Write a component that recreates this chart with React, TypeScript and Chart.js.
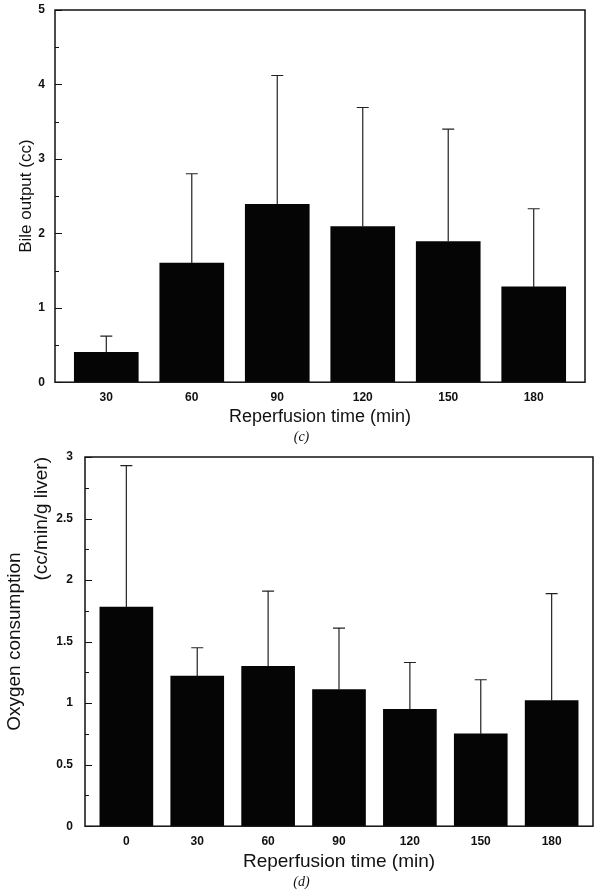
import React, { useEffect, useRef } from 'react';
import { Chart, registerables } from 'chart.js';

Chart.register(...registerables);

// ---- Panel (c): bile output ----
const bileTimes = [30, 60, 90, 120, 150, 180];
const bileMean = [0.40, 1.60, 2.39, 2.09, 1.89, 1.28];
const bileUpper = [0.62, 2.80, 4.12, 3.69, 3.40, 2.33];
const bileYTicks = [0, 1, 2, 3, 4, 5];
const bileYMinor = [0.5, 1.5, 2.5, 3.5, 4.5];

// ---- Panel (d): oxygen consumption ----
const oxyTimes = [0, 30, 60, 90, 120, 150, 180];
const oxyMean = [1.78, 1.22, 1.30, 1.11, 0.95, 0.75, 1.02];
const oxyUpper = [2.93, 1.45, 1.91, 1.61, 1.33, 1.19, 1.89];
const oxyYTicks = [0, 0.5, 1, 1.5, 2, 2.5, 3];
const oxyYMinor = [0.25, 0.75, 1.25, 1.75, 2.25, 2.75];

const SANS = '"Liberation Sans", Arial, Helvetica, sans-serif';
const SERIF = '"Liberation Serif", "DejaVu Serif", serif';
const INK = '#111';

const fmt = (v: any) => String(v);

const fitPad = (s: any) => {
  s.paddingTop = 0;
  s.paddingBottom = 0;
  s.paddingLeft = 0;
  s.paddingRight = 0;
};

// invisible right-hand spacer axis so the caption centres on the page
const spacer = (w: number) => ({
  type: 'linear',
  position: 'right',
  min: 0,
  max: 1,
  grid: { display: false, drawTicks: false },
  border: { display: false },
  ticks: { display: false },
  afterFit: (s: any) => {
    s.width = w;
    fitPad(s);
  },
});

const framePlugin = {
  id: 'frame',
  afterDatasetsDraw(chart: any, _args: any, opts: any) {
    const { ctx, chartArea: a } = chart;
    const y = chart.scales.y;
    ctx.save();
    ctx.strokeStyle = INK;
    ctx.lineWidth = 1.5;
    ctx.strokeRect(a.left, a.top, a.right - a.left, a.bottom - a.top);
    ctx.lineWidth = 1;
    ctx.beginPath();
    for (const v of opts.major) {
      const py = Math.round(y.getPixelForValue(v)) + 0.5;
      ctx.moveTo(a.left, py);
      ctx.lineTo(a.left + 7, py);
    }
    for (const v of opts.minor) {
      const py = Math.round(y.getPixelForValue(v)) + 0.5;
      ctx.moveTo(a.left, py);
      ctx.lineTo(a.left + 4, py);
    }
    ctx.stroke();
    const meta = chart.getDatasetMeta(0);
    ctx.strokeStyle = '#222';
    ctx.lineWidth = 1.2;
    meta.data.forEach((el: any, i: number) => {
      const top = y.getPixelForValue(opts.upper[i]);
      ctx.beginPath();
      ctx.moveTo(el.x, el.y);
      ctx.lineTo(el.x, top);
      ctx.moveTo(el.x - 6, top);
      ctx.lineTo(el.x + 6, top);
      ctx.stroke();
    });
    ctx.restore();
  },
};

function makeTopChart(canvas: HTMLCanvasElement) {
  return new Chart(canvas, {
    type: 'bar',
    data: {
      datasets: [
        {
          data: bileTimes.map((t, i) => ({ x: t, y: bileMean[i] })),
          backgroundColor: '#050505',
          borderWidth: 0,
          barThickness: 64,
        },
      ],
    },
    plugins: [framePlugin],
    options: {
      responsive: false,
      animation: false,
      events: [],
      layout: { padding: { top: 10, right: 0, left: 0, bottom: 0 } },
      plugins: {
        legend: { display: false },
        tooltip: { enabled: false },
        title: {
          display: true,
          position: 'bottom',
          text: '(c)',
          color: INK,
          font: { family: SERIF, style: 'italic', size: 14, weight: 'normal' },
          padding: { top: 0, bottom: 4 },
        },
        frame: { major: bileYTicks, minor: bileYMinor, upper: bileUpper },
      } as any,
      scales: {
        x: {
          type: 'linear',
          offset: false,
          min: 12,
          max: 198,
          grid: { display: false, drawTicks: false, offset: false },
          border: { display: false },
          afterBuildTicks: (s: any) => {
            s.ticks = bileTimes.map((v) => ({ value: v }));
          },
          afterFit: (s: any) => {
            s.height = 47;
            fitPad(s);
          },
          ticks: {
            color: INK,
            font: { family: SANS, size: 12, weight: 'bold' },
            padding: 8,
            autoSkip: false,
            maxRotation: 0,
            callback: fmt,
          },
          title: {
            display: true,
            text: 'Reperfusion time (min)',
            color: INK,
            font: { family: SANS, size: 18 },
            padding: { top: 0, bottom: 1 },
          },
        },
        y: {
          min: 0,
          max: 5,
          grid: { display: false, drawTicks: false },
          border: { display: false },
          afterBuildTicks: (s: any) => {
            s.ticks = bileYTicks.map((v) => ({ value: v }));
          },
          afterFit: (s: any) => {
            s.width = 55;
            fitPad(s);
          },
          ticks: {
            color: INK,
            font: { family: SANS, size: 12, weight: 'bold' },
            padding: 10,
            callback: fmt,
          },
          title: {
            display: true,
            text: 'Bile output (cc)',
            color: INK,
            font: { family: SANS, size: 17 },
            padding: { top: 16, bottom: 0 },
          },
        },
        yRight: spacer(18),
      } as any,
    },
  } as any);
}

function makeBottomChart(canvas: HTMLCanvasElement) {
  return new Chart(canvas, {
    type: 'bar',
    data: {
      datasets: [
        {
          data: oxyTimes.map((t, i) => ({ x: t, y: oxyMean[i] })),
          backgroundColor: '#050505',
          borderWidth: 0,
          barThickness: 53,
        },
      ],
    },
    plugins: [framePlugin],
    options: {
      responsive: false,
      animation: false,
      events: [],
      layout: { padding: { top: 7, right: 0, left: 0, bottom: 0 } },
      plugins: {
        legend: { display: false },
        tooltip: { enabled: false },
        title: {
          display: true,
          position: 'bottom',
          text: '(d)',
          color: INK,
          font: { family: SERIF, style: 'italic', size: 14, weight: 'normal' },
          padding: { top: 0, bottom: 4 },
        },
        frame: { major: oxyYTicks, minor: oxyYMinor, upper: oxyUpper },
      } as any,
      scales: {
        x: {
          type: 'linear',
          offset: false,
          min: -17.5,
          max: 197.5,
          grid: { display: false, drawTicks: false, offset: false },
          border: { display: false },
          afterBuildTicks: (s: any) => {
            s.ticks = oxyTimes.map((v) => ({ value: v }));
          },
          afterFit: (s: any) => {
            s.height = 48;
            fitPad(s);
          },
          ticks: {
            color: INK,
            font: { family: SANS, size: 12, weight: 'bold' },
            padding: 8,
            autoSkip: false,
            maxRotation: 0,
            callback: fmt,
          },
          title: {
            display: true,
            text: 'Reperfusion time (min)',
            color: INK,
            font: { family: SANS, size: 19 },
            padding: { top: 0, bottom: 1 },
          },
        },
        y: {
          min: 0,
          max: 3,
          weight: 0,
          grid: { display: false, drawTicks: false },
          border: { display: false },
          afterBuildTicks: (s: any) => {
            s.ticks = oxyYTicks.map((v) => ({ value: v }));
          },
          afterFit: (s: any) => {
            s.width = 58;
            fitPad(s);
          },
          ticks: {
            color: INK,
            font: { family: SANS, size: 12, weight: 'bold' },
            padding: 12,
            callback: fmt,
          },
          title: {
            display: true,
            text: '(cc/min/g liver)',
            align: 'end',
            color: INK,
            font: { family: SANS, size: 19 },
            padding: { top: 3, bottom: 0 },
          },
        },
        y2: {
          type: 'linear',
          position: 'left',
          min: 0,
          max: 3,
          weight: 1,
          grid: { display: false, drawTicks: false },
          border: { display: false },
          ticks: { display: false },
          afterFit: (s: any) => {
            s.width = 27;
            fitPad(s);
          },
          title: {
            display: true,
            text: 'Oxygen consumption',
            color: INK,
            font: { family: SANS, size: 19 },
            padding: { top: 3, bottom: 0 },
          },
        },
        yRight: spacer(10),
      } as any,
    },
  } as any);
}

export default function App() {
  const topRef = useRef<HTMLCanvasElement>(null);
  const botRef = useRef<HTMLCanvasElement>(null);

  useEffect(() => {
    const c1 = makeTopChart(topRef.current!);
    const c2 = makeBottomChart(botRef.current!);
    return () => {
      c1.destroy();
      c2.destroy();
    };
  }, []);

  return (
    <div style={{ position: 'absolute', left: 0, top: 0, width: 603, height: 895, background: '#fff' }}>
      <canvas ref={topRef} width={603} height={450} style={{ display: 'block', width: 603, height: 450 }} />
      <canvas ref={botRef} width={603} height={445} style={{ display: 'block', width: 603, height: 445 }} />
    </div>
  );
}
